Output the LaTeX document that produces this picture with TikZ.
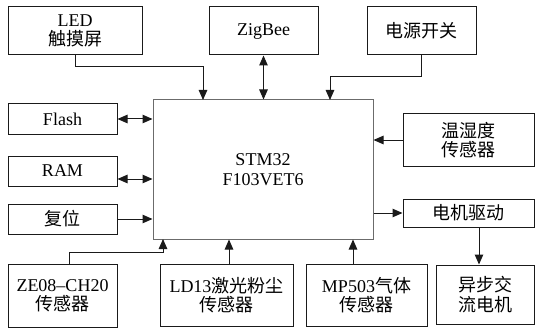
\documentclass[tikz,border=0pt]{standalone}
\usepackage{fontspec}
\setmainfont{Liberation Serif}
\newfontfamily\lat[Ligatures=TeX]{Liberation Serif}
\newfontfamily\cjk{Noto Sans CJK SC}
\usetikzlibrary{arrows.meta, calc}
\definecolor{cline}{HTML}{1A1A1A}
\definecolor{cgrey}{HTML}{6B6B6B}
\tikzset{
  every picture/.style={font=\lat\fontsize{18}{19.5}\selectfont, line width=1pt},
  box/.style={draw=#1, align=center, inner sep=2pt, text=black},
  box/.default=cline,
  arr/.style={-{Triangle[length=10pt, width=8.5pt]}, draw=cline},
  biarr/.style={{Triangle[length=10pt, width=8.5pt]}-{Triangle[length=10pt, width=8.5pt]}, draw=cline},
}

\begin{document}
\begin{tikzpicture}[x=1pt, y=-1pt]
  \useasboundingbox (0,0) rectangle (536,329);
  % controller
  \node[box=cgrey, minimum width=220pt, minimum height=139pt] (mcu) at (263,169.5) {STM32\\F103VET6};
  % top row
  \node[box, minimum width=134pt, minimum height=48pt] (led) at (75,31) {LED\\{\cjk 触摸屏}};
  \node[box, minimum width=109pt, minimum height=48pt] (zigbee) at (263.5,31) {ZigBee};
  \node[box, minimum width=109pt, minimum height=48pt] (power) at (421.5,31) {\cjk 电源开关};
  % left column
  \node[box, minimum width=109pt, minimum height=30pt] (flash) at (62.5,119) {Flash};
  \node[box, minimum width=109pt, minimum height=30pt] (ram) at (62.5,171) {RAM};
  \node[box, minimum width=109pt, minimum height=30pt] (reset) at (62.5,219) {\cjk 复位};
  % right column
  \node[box, minimum width=131pt, minimum height=52pt] (th) at (468.5,140) {\cjk 温湿度\\\cjk 传感器};
  \node[box, minimum width=131pt, minimum height=28pt] (drive) at (468.5,213) {\cjk 电机驱动};
  \node[box, minimum width=98pt, minimum height=59pt] (motor) at (485,294.5) {\cjk 异步交\\\cjk 流电机};
  % bottom row
  \node[box, minimum width=109pt, minimum height=63pt] (ze08) at (62.5,295.5) {ZE08--CH20\\{\cjk 传感器}};
  \node[box, minimum width=133pt, minimum height=62pt] (ld13) at (226.5,295) {LD13{\cjk 激光粉尘}\\{\cjk 传感器}};
  \node[box, minimum width=121pt, minimum height=62pt] (mp503) at (366.5,295) {MP503{\cjk 气体}\\{\cjk 传感器}};
  % connectors
  \coordinate (ledin) at (203,100);
  \coordinate (pwrin) at (330,100);
  \coordinate (zein) at (163,239);
  \draw[arr] (led.south) -- ++(0,11) -| (ledin);
  \draw[biarr] (zigbee.south) -- (zigbee.south |- mcu.north);
  \draw[arr] (power.south) -- ++(0,21) -| (pwrin);
  \draw[biarr] (flash.east) -- (flash.east -| mcu.west);
  \draw[biarr] ([yshift=-8pt]ram.east) -- ([yshift=-8pt]ram.east -| mcu.west);
  \draw[arr] (reset.east) -- (reset.east -| mcu.west);
  \draw[arr] (th.west) -- (th.west -| mcu.east);
  \draw[arr] (mcu.east |- drive.west) -- (drive.west);
  \draw[arr] ([xshift=10.5pt]drive.south) -- ([xshift=10.5pt]drive.south |- motor.north);
  \draw[arr] ([xshift=6.5pt]ze08.north) -- ++(0,-11) -| (zein);
  \draw[arr] ([xshift=2.5pt]ld13.north) -- ([xshift=2.5pt]ld13.north |- mcu.south);
  \draw[arr] ([xshift=-13.5pt]mp503.north) -- ([xshift=-13.5pt]mp503.north |- mcu.south);
\end{tikzpicture}
\end{document}
